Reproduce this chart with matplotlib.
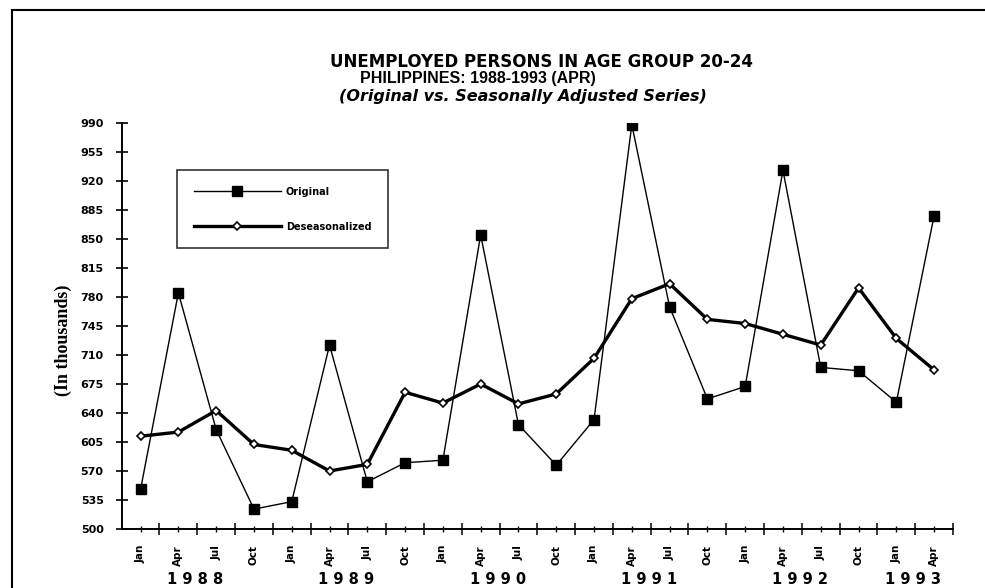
import matplotlib
matplotlib.use("Agg")
import matplotlib.pyplot as plt
import matplotlib.transforms as mtransforms
from matplotlib.patches import Rectangle
from matplotlib.ticker import FixedLocator, NullFormatter

# ---- data ----
months = ["Jan", "Apr", "Jul", "Oct"] * 5 + ["Jan", "Apr"]
years = ["1 9 8 8", "1 9 8 9", "1 9 9 0", "1 9 9 1", "1 9 9 2", "1 9 9 3"]
year_pos = [1.45, 5.45, 9.45, 13.45, 17.45, 20.45]
original = [548, 785, 620, 524, 533, 722, 557, 580, 583, 855, 626, 577,
            632, 988, 768, 657, 672, 933, 695, 691, 653, 878]
deseasonalized = [612, 617, 643, 602, 595, 570, 578, 665, 652, 675, 651, 663,
                  706, 778, 796, 753, 748, 735, 722, 791, 730, 692]
yticks = list(range(500, 991, 35))

SANS = ["DejaVu Sans"]
W, H = 985, 588
fig = plt.figure(figsize=(W / 100, H / 100), dpi=100)

def fx(px):
    return px / W

def fy(py):
    return 1 - py / H

ax_l, ax_r, ax_t, ax_b = 121.7, 953, 123, 529
ax = fig.add_axes([fx(ax_l), fy(ax_b), fx(ax_r) - fx(ax_l), fy(ax_t) - fy(ax_b)])

x = list(range(len(original)))
ax.plot(x, original, color="black", lw=1.0, marker="s", markersize=7,
        markerfacecolor="black", markeredgecolor="black", label="Original", zorder=3)
ax.plot(x, deseasonalized, color="black", lw=2.4, marker="D", markersize=4.5,
        markerfacecolor="white", markeredgecolor="black", markeredgewidth=1.2,
        label="Deseasonalized", zorder=4)

ax.set_xlim(-0.5, len(original) - 0.5)
ax.set_ylim(500, 990)

for s in ["top", "right"]:
    ax.spines[s].set_visible(False)
for s in ["left", "bottom"]:
    ax.spines[s].set_linewidth(1.4)

ax.set_yticks(yticks)
ax.set_yticklabels([str(v) for v in yticks], fontsize=8, fontweight="bold",
                   family=SANS)
ax.tick_params(axis="y", direction="inout", length=8, width=1.2, pad=9)

# x: major ticks at boundaries (no labels), minor ticks at data points with labels
ax.xaxis.set_major_locator(FixedLocator([i + 0.5 for i in range(len(original))]))
ax.xaxis.set_major_formatter(NullFormatter())
ax.set_xticks(x, labels=months, minor=True)
ax.tick_params(axis="x", which="major", direction="inout", length=9, width=1.1)
ax.tick_params(axis="x", which="minor", direction="inout", length=5, width=1.0, pad=9)
for lab in ax.get_xticklabels(minor=True):
    lab.set_rotation(90)
    lab.set_fontsize(7.5)
    lab.set_fontweight("bold")
    lab.set_family(SANS)

trans = mtransforms.blended_transform_factory(ax.transData, fig.transFigure)
for yp, yl in zip(year_pos, years):
    ax.text(yp, fy(580), yl, transform=trans, ha="center", va="center",
            fontsize=10.5, fontweight="bold", family=SANS)

fig.text(fx(63), fy(340), "(In thousands)", rotation=90, ha="center", va="center",
         fontsize=13, fontweight="bold", family=["Liberation Serif", "DejaVu Serif"])

fig.text(fx(541), fy(62), "UNEMPLOYED PERSONS IN AGE GROUP 20-24", ha="center", va="center",
         fontsize=12, fontweight="bold", family=SANS)
fig.text(fx(478), fy(79), "PHILIPPINES: 1988-1993 (APR)", ha="center", va="center",
         fontsize=11.5, fontweight="bold", family=["Liberation Sans", "DejaVu Sans"])
fig.text(fx(523), fy(96), "(Original vs. Seasonally Adjusted Series)", ha="center", va="center",
         fontsize=11.5, fontweight="bold", fontstyle="italic", family=SANS)

leg = ax.legend(loc="upper left",
                bbox_to_anchor=((177 - ax_l) / (ax_r - ax_l), (ax_b - 170) / (ax_b - ax_t)),
                handlelength=9.0, handletextpad=0.5, borderpad=1.7,
                labelspacing=2.6, borderaxespad=0, fancybox=False, frameon=True,
                prop={"size": 7, "weight": "bold", "family": SANS})
leg.get_frame().set_edgecolor("black")
leg.get_frame().set_linewidth(1.2)

# outer border of the scanned page frame
fig.patches.append(Rectangle((fx(11.7), -0.1), 1.2, fy(10) + 0.1, transform=fig.transFigure,
                             fill=False, edgecolor="black", linewidth=1.5))

fig.savefig("out.png", dpi=100)
